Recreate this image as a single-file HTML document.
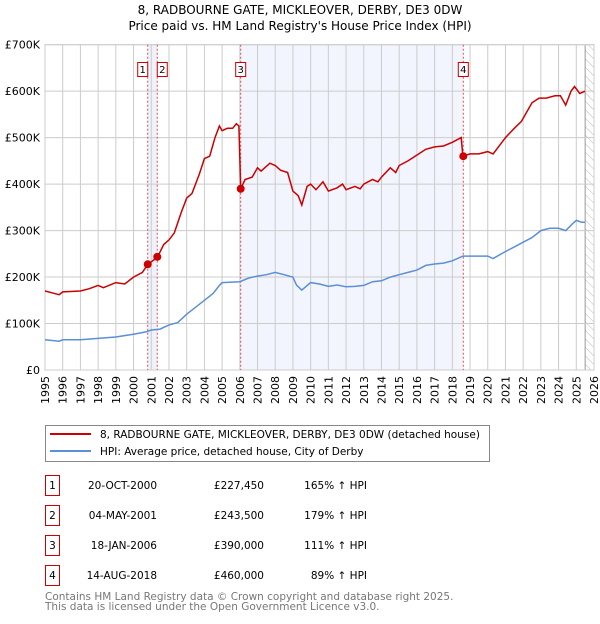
<!DOCTYPE html>
<html><head><meta charset="utf-8"><style>
body{margin:0;background:#fff;font-family:"DejaVu Sans","Liberation Sans",sans-serif;}
svg text{font-family:"DejaVu Sans","Liberation Sans",sans-serif;}
</style></head><body>
<svg id="c" width="600" height="620" xmlns="http://www.w3.org/2000/svg">
<defs><pattern id="hatch" width="6" height="6" patternUnits="userSpaceOnUse" patternTransform="rotate(-45)"><line x1="0" y1="0" x2="0" y2="6" stroke="#bbb" stroke-width="1"/></pattern></defs>
<text x="300" y="14" text-anchor="middle" font-size="12" fill="#000">8, RADBOURNE GATE, MICKLEOVER, DERBY, DE3 0DW</text>
<text x="300" y="30" text-anchor="middle" font-size="12" fill="#000">Price paid vs. HM Land Registry's House Price Index (HPI)</text>
<g id="plot"></g>
<g>
<rect x="45.5" y="425.5" width="444" height="36" fill="#fff" stroke="#888"/>
<line x1="50" y1="434" x2="91" y2="434" stroke="#cc0000" stroke-width="2"/>
<text x="100" y="438" font-size="10.5">8, RADBOURNE GATE, MICKLEOVER, DERBY, DE3 0DW (detached house)</text>
<line x1="50" y1="451" x2="91" y2="451" stroke="#5b8fd6" stroke-width="2"/>
<text x="100" y="455" font-size="10.5">HPI: Average price, detached house, City of Derby</text>
</g>
<g id="table" font-size="10.5" fill="#000"></g>
<text x="45" y="600" font-size="10.5" fill="#777">Contains HM Land Registry data © Crown copyright and database right 2025.</text>
<text x="45" y="610" font-size="10.5" fill="#777">This data is licensed under the Open Government Licence v3.0.</text>
</svg>
<script>
const yTicks=[0,100,200,300,400,500,600,700];
const yTickLabels=["£0","£100K","£200K","£300K","£400K","£500K","£600K","£700K"];
const years=[1995,1996,1997,1998,1999,2000,2001,2002,2003,2004,2005,2006,2007,2008,2009,2010,2011,2012,2013,2014,2015,2016,2017,2018,2019,2020,2021,2022,2023,2024,2025,2026];
const propT=[1995.0,1995.5,1995.8,1996,1997,1997.5,1998,1998.3,1999,1999.5,2000,2000.5,2000.8,2001.35,2001.7,2002,2002.3,2002.7,2003,2003.3,2003.7,2004,2004.3,2004.6,2004.85,2005,2005.3,2005.6,2005.8,2005.95,2006.05,2006.3,2006.7,2007,2007.2,2007.7,2008,2008.3,2008.7,2009,2009.3,2009.5,2009.8,2010,2010.3,2010.7,2011,2011.5,2011.8,2012,2012.5,2012.8,2013,2013.5,2013.8,2014,2014.5,2014.8,2015,2015.5,2015.9,2016.5,2017,2017.5,2018,2018.5,2018.6,2019,2019.5,2020,2020.3,2020.8,2021,2021.5,2021.9,2022.5,2022.9,2023.3,2023.8,2024.1,2024.4,2024.7,2024.9,2025.2,2025.5];
const propV=[170,165,162,168,170,175,182,177,188,185,200,210,227,243,270,280,295,340,370,380,420,455,460,500,525,515,520,520,530,525,390,410,415,435,428,445,440,430,425,385,375,355,395,400,388,405,385,392,400,388,395,390,400,410,405,415,435,425,440,450,460,475,480,482,490,500,460,465,465,470,465,490,500,520,535,575,585,585,590,590,570,600,610,595,600];
const hpiT=[1995,1995.8,1996,1997,1998,1999,2000,2000.7,2001,2001.5,2002,2002.5,2003,2003.5,2004,2004.5,2004.8,2005,2006,2006.5,2007,2007.5,2008,2008.5,2009,2009.2,2009.5,2010,2010.5,2011,2011.5,2012,2012.5,2013,2013.5,2014,2014.5,2015,2015.5,2016,2016.5,2017,2017.5,2018,2018.6,2019,2020,2020.3,2021,2021.5,2022,2022.5,2023,2023.5,2024,2024.4,2024.8,2025,2025.3,2025.5];
const hpiV=[65,62,65,65,68,71,77,82,86,88,97,102,120,135,150,165,180,188,190,198,202,205,210,205,200,183,172,188,185,180,183,179,180,182,190,192,200,205,210,215,225,228,230,235,245,245,245,240,255,265,275,285,300,305,305,300,315,322,318,318];
const saleLabels=["1","2","3","4"];
const saleT=[2000.80,2001.34,2006.05,2018.62];
const saleV=[227.45,243.5,390,460];
const saleDates=["20-OCT-2000","04-MAY-2001","18-JAN-2006","14-AUG-2018"];
const salePrices=["£227,450","£243,500","£390,000","£460,000"];
const saleHpi=["165% \u2191 HPI","179% \u2191 HPI","111% \u2191 HPI","89% \u2191 HPI"];

const X0=45,X1=594,Y0=370,Y1=44.7;
const xs=t=>X0+(t-1995)/(2026-1995)*(X1-X0);
const ys=v=>Y0-(v/700)*(Y0-Y1);
const NS="http://www.w3.org/2000/svg";
const plot=document.getElementById('plot');
function mk(tag,attrs,parent){const e=document.createElementNS(NS,tag);for(const k in attrs)e.setAttribute(k,attrs[k]);(parent||plot).appendChild(e);return e;}
let r1=mk('rect',{x:xs(saleT[0]),y:Y1,width:xs(saleT[1])-xs(saleT[0]),height:Y0-Y1,fill:'#eef2fb'});


let r2=mk('rect',{x:xs(saleT[2]),y:Y1,width:xs(saleT[3])-xs(saleT[2]),height:Y0-Y1,fill:'#f2f5fd'});


let hr=mk('rect',{x:xs(2025.5),y:Y1,width:X1-xs(2025.5),height:Y0-Y1,fill:'url(#hatch)'});


mk('line',{x1:xs(2025.5),y1:Y1,x2:xs(2025.5),y2:Y0,stroke:'#999'});
years.forEach(y=>{
 const g=mk('line',{x1:xs(y),y1:Y1,x2:xs(y),y2:Y0,stroke:'#ccc','stroke-width':1});
 
 
 const t=mk('text',{x:0,y:0,'font-size':11,'text-anchor':'end',transform:`translate(${xs(y)+4},${Y0+6}) rotate(-90)`});
 t.textContent=y;
 
 
});
yTicks.forEach((v,i)=>{
 const g=mk('line',{x1:X0,y1:ys(v),x2:X1,y2:ys(v),stroke:'#ccc','stroke-width':1});
 
 
 const t=mk('text',{x:X0-5,y:ys(v)+4,'font-size':11,'text-anchor':'end'});
 t.textContent=yTickLabels[i];
 
 
});
mk('rect',{x:X0,y:Y1,width:X1-X0,height:Y0-Y1,fill:'none',stroke:'#ccc'});
saleT.forEach((t,i)=>{
 const l=mk('line',{x1:xs(t),y1:Y1,x2:xs(t),y2:Y0,stroke:'#e05050','stroke-dasharray':'2,2','stroke-width':1});
 
 
});
const path=(T,V)=>T.map((t,i)=>(i?'L':'M')+xs(t).toFixed(1)+','+ys(V[i]).toFixed(1)).join('');
const hp=mk('path',{d:path(hpiT,hpiV),fill:'none',stroke:'#5b8fd6','stroke-width':1.5});


const pp=mk('path',{d:path(propT,propV),fill:'none',stroke:'#cc0000','stroke-width':1.5});


saleT.forEach((t,i)=>{
 const c=mk('circle',{cx:xs(t),cy:ys(saleV[i]),r:4,fill:'#cc0000'});
 
 
 const w=10, x=(i===0)?xs(t)-w:(i===1?xs(t):xs(t)-5);
 const b=mk('rect',{x:x,y:62.5,width:w,height:14,fill:'#fff',stroke:'#cc0000'});
 
 
 const tx=mk('text',{x:x+w/2,y:73,'font-size':10,'text-anchor':'middle'});
 tx.textContent=saleLabels[i];
 
 
});
const tb=document.getElementById('table');
saleLabels.forEach((s,i)=>{
 const y=475+i*30;
 const b=mk('rect',{x:45.5,y:y+0.5,width:14,height:20,fill:'#fff',stroke:'#cc0000'},tb);
 
 
 const a=mk('text',{x:52.5,y:y+14,'text-anchor':'middle'},tb);a.textContent=s;
 
 
 const d=mk('text',{x:157,y:y+14,'text-anchor':'end'},tb);d.textContent=saleDates[i];
 
 
 const p=mk('text',{x:264,y:y+14,'text-anchor':'end'},tb);p.textContent=salePrices[i];
 
 
 const h=mk('text',{x:367,y:y+14,'text-anchor':'end'},tb);h.textContent=saleHpi[i];
 
 
});
</script>
</body></html>
